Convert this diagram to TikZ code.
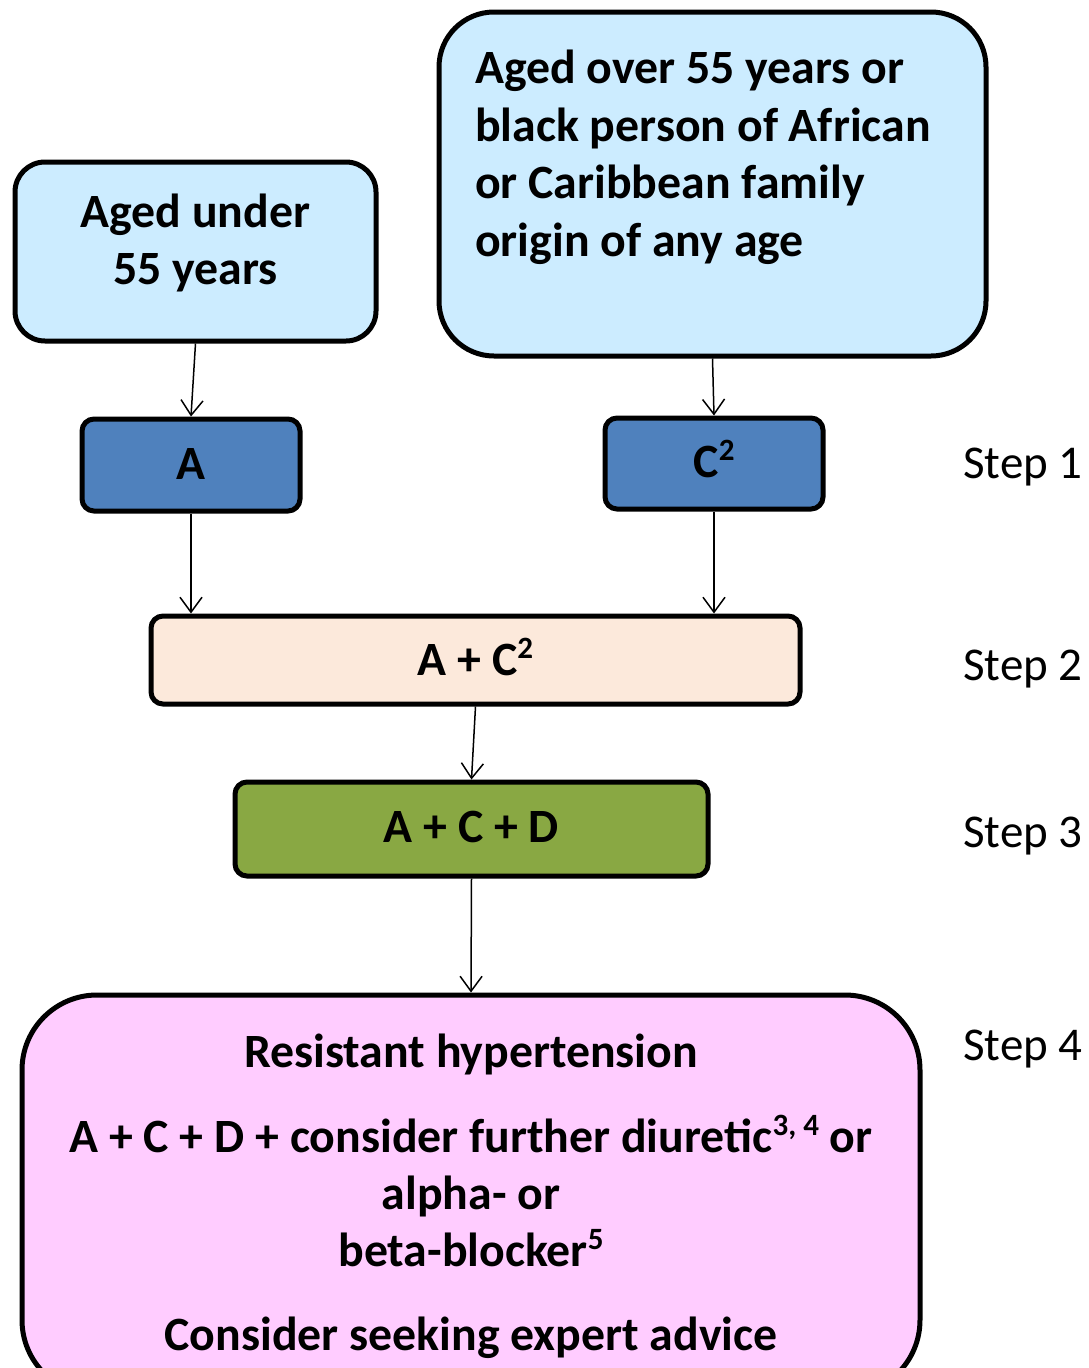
\documentclass[tikz,border=0pt]{standalone}
\usepackage{fontspec}
\setmainfont{Carlito}
\usetikzlibrary{arrows.meta}
\definecolor{lblue}{RGB}{204,236,255}
\definecolor{dblue}{RGB}{79,129,189}
\definecolor{peach}{RGB}{252,233,219}
\definecolor{olive}{RGB}{137,168,67}
\definecolor{pinkbox}{RGB}{255,204,255}
\newcommand{\sups}[1]{\raisebox{17pt}{\fontsize{31}{31}\selectfont #1}}
\begin{document}
\begin{tikzpicture}[x=1pt,y=-1pt,
  box/.style={draw=black, line width=5pt, inner sep=0pt},
  txt/.style={font=\fontsize{47.8}{57.5}\selectfont\bfseries, inner sep=0pt},
  steplbl/.style={font=\fontsize{47}{57.5}\selectfont, inner sep=0pt, anchor=base west},
  arr/.style={line width=1.5pt, -{Straight Barb[length=15pt,width=22pt,line width=1.5pt]}}]
\useasboundingbox (0,0) rectangle (1088,1368);
% boxes
\node[box, fill=lblue, rounded corners=30pt, minimum width=361pt, minimum height=179pt] (u55) at (195.5,251.5) {};
\node[box, fill=lblue, rounded corners=55pt, minimum width=547pt, minimum height=344pt] (o55) at (712.5,184) {};
\node[box, fill=dblue, rounded corners=12pt, minimum width=218pt, minimum height=92pt] (a) at (191,465) {};
\node[box, fill=dblue, rounded corners=12pt, minimum width=218pt, minimum height=91pt] (c) at (714,463.5) {};
\node[box, fill=peach, rounded corners=12pt, minimum width=649pt, minimum height=88pt] (ac) at (475.5,660) {};
\node[box, fill=olive, rounded corners=12pt, minimum width=473pt, minimum height=94pt] (acd) at (471.5,829) {};
\node[box, fill=pinkbox, rounded corners=75pt, minimum width=898pt, minimum height=400pt] (res) at (471,1195) {};
% texts
\node[txt, anchor=base] (u55t1) at (195.5,227) {Aged under};
\node[txt, anchor=base] (u55t2) at (195.5,284) {55 years};
\node[txt, anchor=base west] (o55t1) at (475,83) {Aged over 55 years or};
\node[txt, anchor=base west] (o55t2) at (475,141) {black person of African};
\node[txt, anchor=base west] (o55t3) at (475,198) {or Caribbean family};
\node[txt, anchor=base west] (o55t4) at (475,256) {origin of any age};
\node[txt, anchor=base] (at) at (191,479) {A};
\node[txt, anchor=base] (ct) at (714,477) {C\sups{2}};
\node[txt, anchor=base] (act) at (475.5,675) {A + C\sups{2}};
\node[txt, anchor=base] (acdt) at (471.5,842) {A + C + D};
\node[txt, anchor=base] (r1) at (471,1067) {Resistant hypertension};
\node[txt, anchor=base] (r2) at (471,1152) {A + C + D + consider further diuretic\sups{3, 4} or};
\node[txt, anchor=base] (r3) at (471,1209) {alpha- or};
\node[txt, anchor=base] (r4) at (471,1266) {beta-blocker\sups{5}};
\node[txt, anchor=base] (r5) at (471,1350) {Consider seeking expert advice};
% step labels
\node[steplbl] (s1) at (963,478) {Step 1};
\node[steplbl] (s2) at (963,680) {Step 2};
\node[steplbl] (s3) at (963,847) {Step 3};
\node[steplbl] (s4) at (963,1060) {Step 4};
% arrows
\draw[arr] (u55.south) -- (a.north);
\draw[arr] (o55.south) -- (c.north);
\draw[arr] (a.south) -- (a.south |- ac.north);
\draw[arr] (c.south) -- (c.south |- ac.north);
\draw[arr] (ac.south) -- (acd.north);
\draw[arr] (acd.south) -- (res.north);
\end{tikzpicture}
\end{document}
